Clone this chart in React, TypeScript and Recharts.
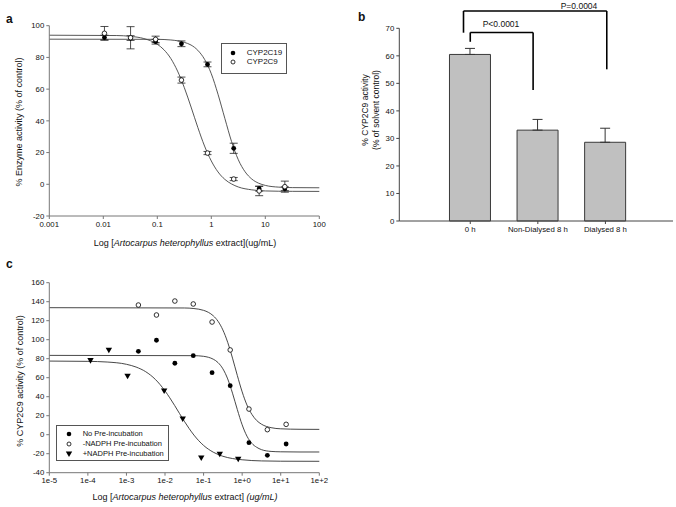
import React from "react";
import { ComposedChart, Line, Scatter, ErrorBar, XAxis, YAxis, Bar, ReferenceLine } from "recharts";

// ---- panel a: CYP2C19 / CYP2C9 inhibition ----
const aConc = [0.0105, 0.032, 0.093, 0.28, 0.85, 2.6, 7.7, 23];
const a2C19 = [92.5, 92.2, 89.9, 88.6, 75.6, 22.7, -2.8, -2.8];
const a2C19Err = [1.5, 1.5, 1.5, 1.8, 1.5, 3.2, 1.5, 1.2];
const a2C9 = [95.2, 92.4, 91.4, 65.7, 19.7, 3.3, -4.2, -1.5];
const a2C9Err = [4.3, 7, 2, 1.9, 1, 1, 3, 3.5];
const aTicks = [0.001, 0.01, 0.1, 1, 10, 100];
const aYTicks = [-20, 0, 20, 40, 60, 80, 100];

// fitted lines
const a2C19FitX = [0.001, 0.1, 0.178, 0.316, 0.422, 0.562, 0.75, 1, 1.33, 1.78, 2.37, 3.16, 4.22, 5.62, 7.5, 10, 17.8, 31.6, 100];
const a2C19FitY = [91.5, 91.4, 91.0, 89.5, 87.8, 84.5, 78.8, 69.7, 56.8, 41.6, 27.0, 15.5, 7.9, 3.3, 0.7, -0.7, -1.8, -2.1, -2.2];
const a2C9FitX = [0.001, 0.0178, 0.0316, 0.0562, 0.1, 0.133, 0.178, 0.237, 0.316, 0.422, 0.562, 0.75, 1, 1.33, 1.78, 2.37, 3.16, 5.62, 10, 31.6, 100];
const a2C9FitY = [94, 93.8, 93.3, 91.9, 88.3, 84.8, 79.3, 71.4, 61, 48.7, 35.9, 24.1, 14.7, 7.8, 3.1, 0.2, -1.7, -3.5, -4.2, -4.45, -4.5];

// ---- panel b: CYP2C9 activity after pre-incubation ----
const bCats = ["0 h", "Non-Dialysed 8 h", "Dialysed 8 h"];
const bPos = [1, 2, 3];
const bVals = [60.5, 33.0, 28.6];
const bErr = [2.2, 3.9, 5.1];
const bYTicks = [0, 10, 20, 30, 40, 50, 60, 70];
const br1X = [1, 1, 1.93, 1.93];
const br1Y = [65.1, 68.5, 68.5, 47.6];
const br2X = [0.9, 0.9, 3.02, 3.02];
const br2Y = [68.4, 76.3, 76.3, 55.1];

// ---- panel c: pre-incubation conditions ----
const cCircX = [0.00204, 0.006, 0.018, 0.054, 0.166, 0.49, 1.5, 4.5, 13.8];
const cNoPre = [87.8, 99.4, 75.2, 83.2, 65.3, 51.6, -8.4, -21.7, -9.8];
const cMinusNadph = [136.5, 126, 140.7, 137.6, 118.6, 89.2, 27, 5.3, 10.9];
const cTriX = [0.000117, 0.00035, 0.00107, 0.0095, 0.0288, 0.087, 0.263, 0.79];
const cPlusNadph = [77.9, 88.8, 61.5, 46, 16.5, -24.5, -20.6, -25.9];
const cTicks = [1e-5, 1e-4, 1e-3, 1e-2, 1e-1, 1, 10, 100];
const cTickLabels = ["1e-5", "1e-4", "1e-3", "1e-2", "1e-1", "1e+0", "1e+1", "1e+2"];
const cYTicks = [-40, -20, 0, 20, 40, 60, 80, 100, 120, 140, 160];

const cNoPreFitX = [1e-5, 0.0562, 0.1, 0.133, 0.178, 0.237, 0.316, 0.422, 0.562, 0.75, 1, 1.33, 1.78, 2.37, 3.16, 5.62, 10, 31.6, 100];
const cNoPreFitY = [83.5, 83.2, 82.5, 81.5, 79.5, 75.9, 69.4, 58.7, 43.7, 26.4, 10.4, -1.5, -9.1, -13.2, -15.7, -17.6, -18.0, -18.2, -18.2];
const cMinusFitX = [1e-5, 0.0316, 0.0562, 0.1, 0.133, 0.178, 0.237, 0.316, 0.422, 0.562, 0.75, 1, 1.33, 1.78, 2.37, 3.16, 5.62, 10, 31.6, 100];
const cMinusFitY = [133.7, 133.4, 132.8, 130.9, 128.8, 125.2, 119.4, 110.3, 97.2, 80.6, 62.3, 45.1, 31.3, 21.5, 15.0, 11.1, 7.4, 6.2, 5.7, 5.6];
const cPlusFitX = [1e-5, 1e-4, 3.16e-4, 1e-3, 1.78e-3, 3.16e-3, 5.62e-3, 0.01, 0.0133, 0.0178, 0.0237, 0.0316, 0.0422, 0.0562, 0.1, 0.178, 0.316, 0.562, 1, 3.16, 10, 100];
const cPlusFitY = [77.5, 77.2, 76.5, 74.1, 71.2, 66.3, 58.2, 46.1, 38.8, 30.7, 22.4, 14.2, 6.5, -0.4, -11.3, -18.4, -22.7, -25.1, -26.4, -27.6, -27.9, -28];

const zip = (xs: number[], ys: number[], es?: number[]) =>
  xs.map((x, i) => ({ x, y: ys[i], err: es ? es[i] : 0 }));

const font = "'Liberation Sans', Arial, Helvetica, sans-serif";
const tickStyle = { fontSize: 7.8, fill: "#111", fontFamily: font };

const FilledDot = (p: any) => <circle cx={p.cx} cy={p.cy} r={2.4} fill="#000" />;
const OpenDot = (p: any) => <circle cx={p.cx} cy={p.cy} r={2.3} fill="#fff" stroke="#000" strokeWidth={0.8} />;
const TriDown = (p: any) => (
  <path d={`M${p.cx - 3.2},${p.cy - 2.6}L${p.cx + 3.2},${p.cy - 2.6}L${p.cx},${p.cy + 3}Z`} fill="#000" />
);

function Abs({ x, y, children, style }: { x: number; y: number; children: React.ReactNode; style?: React.CSSProperties }) {
  return (
    <div style={{ position: "absolute", left: x, top: y, whiteSpace: "nowrap", ...style }}>{children}</div>
  );
}

function VLabel({ x, y, size, children }: { x: number; y: number; size: number; children: React.ReactNode }) {
  return (
    <div
      style={{
        position: "absolute",
        left: x,
        top: y,
        transform: "translate(-50%,-50%) rotate(-90deg)",
        whiteSpace: "nowrap",
        fontSize: size,
        textAlign: "center",
        lineHeight: 1.25,
      }}
    >
      {children}
    </div>
  );
}

function LegendRow({ y, mark, text, tx, size }: { y: number; mark: React.ReactNode; text: string; tx: number; size: number }) {
  return (
    <>
      <svg style={{ position: "absolute", left: tx - 20, top: y - 4 }} width={12} height={8}>
        {mark}
      </svg>
      <div style={{ position: "absolute", left: tx, top: y - 5, fontSize: size, lineHeight: "10px", whiteSpace: "nowrap" }}>
        {text}
      </div>
    </>
  );
}

function PanelA() {
  return (
    <ComposedChart width={340} height={250} margin={{ top: 25.7, right: 20.7, left: 9.3, bottom: 14 }}>
      <XAxis
        dataKey="x"
        type="number"
        scale="log"
        domain={[0.001, 100]}
        ticks={aTicks}
        tickFormatter={(v: number) => String(v)}
        tick={tickStyle}
        tickSize={3}
        height={20}
        stroke="#777"
      />
      <YAxis domain={[-20, 100]} ticks={aYTicks} tick={tickStyle} tickSize={3} width={40} stroke="#777" />
      <Line data={zip(a2C19FitX, a2C19FitY)} dataKey="y" type="monotone" stroke="#444" strokeWidth={0.9} dot={false} isAnimationActive={false} />
      <Line data={zip(a2C9FitX, a2C9FitY)} dataKey="y" type="monotone" stroke="#444" strokeWidth={0.9} dot={false} isAnimationActive={false} />
      <Scatter data={zip(aConc, a2C19, a2C19Err)} dataKey="y" shape={FilledDot} isAnimationActive={false}>
        <ErrorBar dataKey="err" direction="y" width={4} stroke="#222" strokeWidth={0.8} />
      </Scatter>
      <Scatter data={zip(aConc, a2C9, a2C9Err)} dataKey="y" shape={OpenDot} isAnimationActive={false}>
        <ErrorBar dataKey="err" direction="y" width={4} stroke="#222" strokeWidth={0.8} />
      </Scatter>
    </ComposedChart>
  );
}

function PanelB() {
  const data = bPos.map((p, i) => ({ pos: p, v: bVals[i], err: [0, bErr[i]] }));
  const segs = (xs: number[], ys: number[], key: string) =>
    xs.slice(1).map((_, i) => (
      <ReferenceLine
        key={key + i}
        segment={[
          { x: xs[i], y: ys[i] },
          { x: xs[i + 1], y: ys[i + 1] },
        ]}
        stroke="#000"
        strokeWidth={1.6}
        ifOverflow="visible"
      />
    ));
  return (
    <ComposedChart width={336} height={250} data={data} margin={{ top: 28.3, right: 3, left: 29.3, bottom: 11 }}>
      <XAxis
        dataKey="pos"
        type="number"
        domain={[-0.05, 4]}
        ticks={bPos}
        tickFormatter={(v: number) => bCats[v - 1]}
        tick={tickStyle}
        tickSize={3}
        height={18}
        stroke="#444"
      />
      <YAxis domain={[0, 70]} ticks={bYTicks} tick={tickStyle} tickSize={3} width={30} stroke="#444" />
      <Bar dataKey="v" barSize={41} fill="#c0c0c0" stroke="#3a3a3a" strokeWidth={1} isAnimationActive={false}>
        <ErrorBar dataKey="err" direction="y" width={5} stroke="#333" strokeWidth={1} />
      </Bar>
      {segs(br1X, br1Y, "a")}
      {segs(br2X, br2Y, "b")}
    </ComposedChart>
  );
}

function PanelC() {
  return (
    <ComposedChart width={340} height={257} margin={{ top: 32.7, right: 20.7, left: 9.3, bottom: 14.3 }}>
      <XAxis
        dataKey="x"
        type="number"
        scale="log"
        domain={[1e-5, 100]}
        ticks={cTicks}
        tickFormatter={(v: number) => cTickLabels[Math.round(Math.log10(v)) + 5]}
        tick={tickStyle}
        tickSize={3}
        height={20}
        stroke="#777"
      />
      <YAxis domain={[-40, 160]} ticks={cYTicks} tick={tickStyle} tickSize={3} width={40} stroke="#777" />
      <Line data={zip(cMinusFitX, cMinusFitY)} dataKey="y" type="monotone" stroke="#333" strokeWidth={0.9} dot={false} isAnimationActive={false} />
      <Line data={zip(cNoPreFitX, cNoPreFitY)} dataKey="y" type="monotone" stroke="#333" strokeWidth={0.9} dot={false} isAnimationActive={false} />
      <Line data={zip(cPlusFitX, cPlusFitY)} dataKey="y" type="monotone" stroke="#333" strokeWidth={0.9} dot={false} isAnimationActive={false} />
      <Scatter data={zip(cCircX, cNoPre)} dataKey="y" shape={FilledDot} isAnimationActive={false} />
      <Scatter data={zip(cCircX, cMinusNadph)} dataKey="y" shape={OpenDot} isAnimationActive={false} />
      <Scatter data={zip(cTriX, cPlusNadph)} dataKey="y" shape={TriDown} isAnimationActive={false} />
    </ComposedChart>
  );
}

export default function App() {
  return (
    <div
      style={{
        position: "absolute",
        left: 0,
        top: 0,
        width: 676,
        height: 507,
        background: "#fff",
        fontFamily: font,
        color: "#111",
        overflow: "hidden",
      }}
    >
      <div style={{ position: "absolute", left: 0, top: 0 }}>
        <PanelA />
      </div>
      <div style={{ position: "absolute", left: 340, top: 0 }}>
        <PanelB />
      </div>
      <div style={{ position: "absolute", left: 0, top: 250 }}>
        <PanelC />
      </div>

      {/* panel letters */}
      <Abs x={6} y={12} style={{ fontSize: 12, fontWeight: "bold" }}>a</Abs>
      <Abs x={358} y={10} style={{ fontSize: 12, fontWeight: "bold" }}>b</Abs>
      <Abs x={6} y={257} style={{ fontSize: 12, fontWeight: "bold" }}>c</Abs>

      {/* axis titles */}
      <VLabel x={20} y={122} size={9}>% Enzyme activity (% of control)</VLabel>
      <Abs x={185} y={243} style={{ fontSize: 9, transform: "translate(-50%,-50%)" }}>
        Log [<i>Artocarpus heterophyllus</i> extract](ug/mL)
      </Abs>
      <VLabel x={371} y={110} size={8.5}>
        <div>% CYP2C9 activity</div>
        <div>(% of solvent control)</div>
      </VLabel>
      <VLabel x={21} y={381} size={9}>% CYP2C9 activity (% of control)</VLabel>
      <Abs x={185} y={497} style={{ fontSize: 9, transform: "translate(-50%,-50%)" }}>
        Log [<i>Artocarpus heterophyllus</i> extract] <i>(ug/mL)</i>
      </Abs>

      {/* p-values */}
      <Abs x={501} y={24} style={{ fontSize: 8.5, transform: "translate(-50%,-50%)" }}>P&lt;0.0001</Abs>
      <Abs x={579} y={5.5} style={{ fontSize: 8.5, transform: "translate(-50%,-50%)" }}>P=0.0004</Abs>

      {/* legend a */}
      <div style={{ position: "absolute", left: 220.7, top: 42.5, width: 64, height: 29, border: "1px solid #555" }} />
      <LegendRow y={52.7} tx={246.7} size={8} text="CYP2C19" mark={<circle cx={6} cy={4} r={2.3} fill="#000" />} />
      <LegendRow y={62.3} tx={246.7} size={8} text="CYP2C9" mark={<circle cx={6} cy={4} r={2} fill="#fff" stroke="#000" strokeWidth={0.8} />} />

      {/* legend c */}
      <div style={{ position: "absolute", left: 56, top: 425, width: 111, height: 34, border: "1px solid #555" }} />
      <LegendRow y={434.3} tx={82.7} size={7.5} text="No Pre-incubation" mark={<circle cx={6} cy={4} r={2.3} fill="#000" />} />
      <LegendRow y={444} tx={82.7} size={7.5} text="-NADPH Pre-incubation" mark={<circle cx={6} cy={4} r={2} fill="#fff" stroke="#000" strokeWidth={0.8} />} />
      <LegendRow y={453.7} tx={82.7} size={7.5} text="+NADPH Pre-incubation" mark={<path d="M2.8,1.4L9.2,1.4L6,7Z" fill="#000" />} />
    </div>
  );
}
